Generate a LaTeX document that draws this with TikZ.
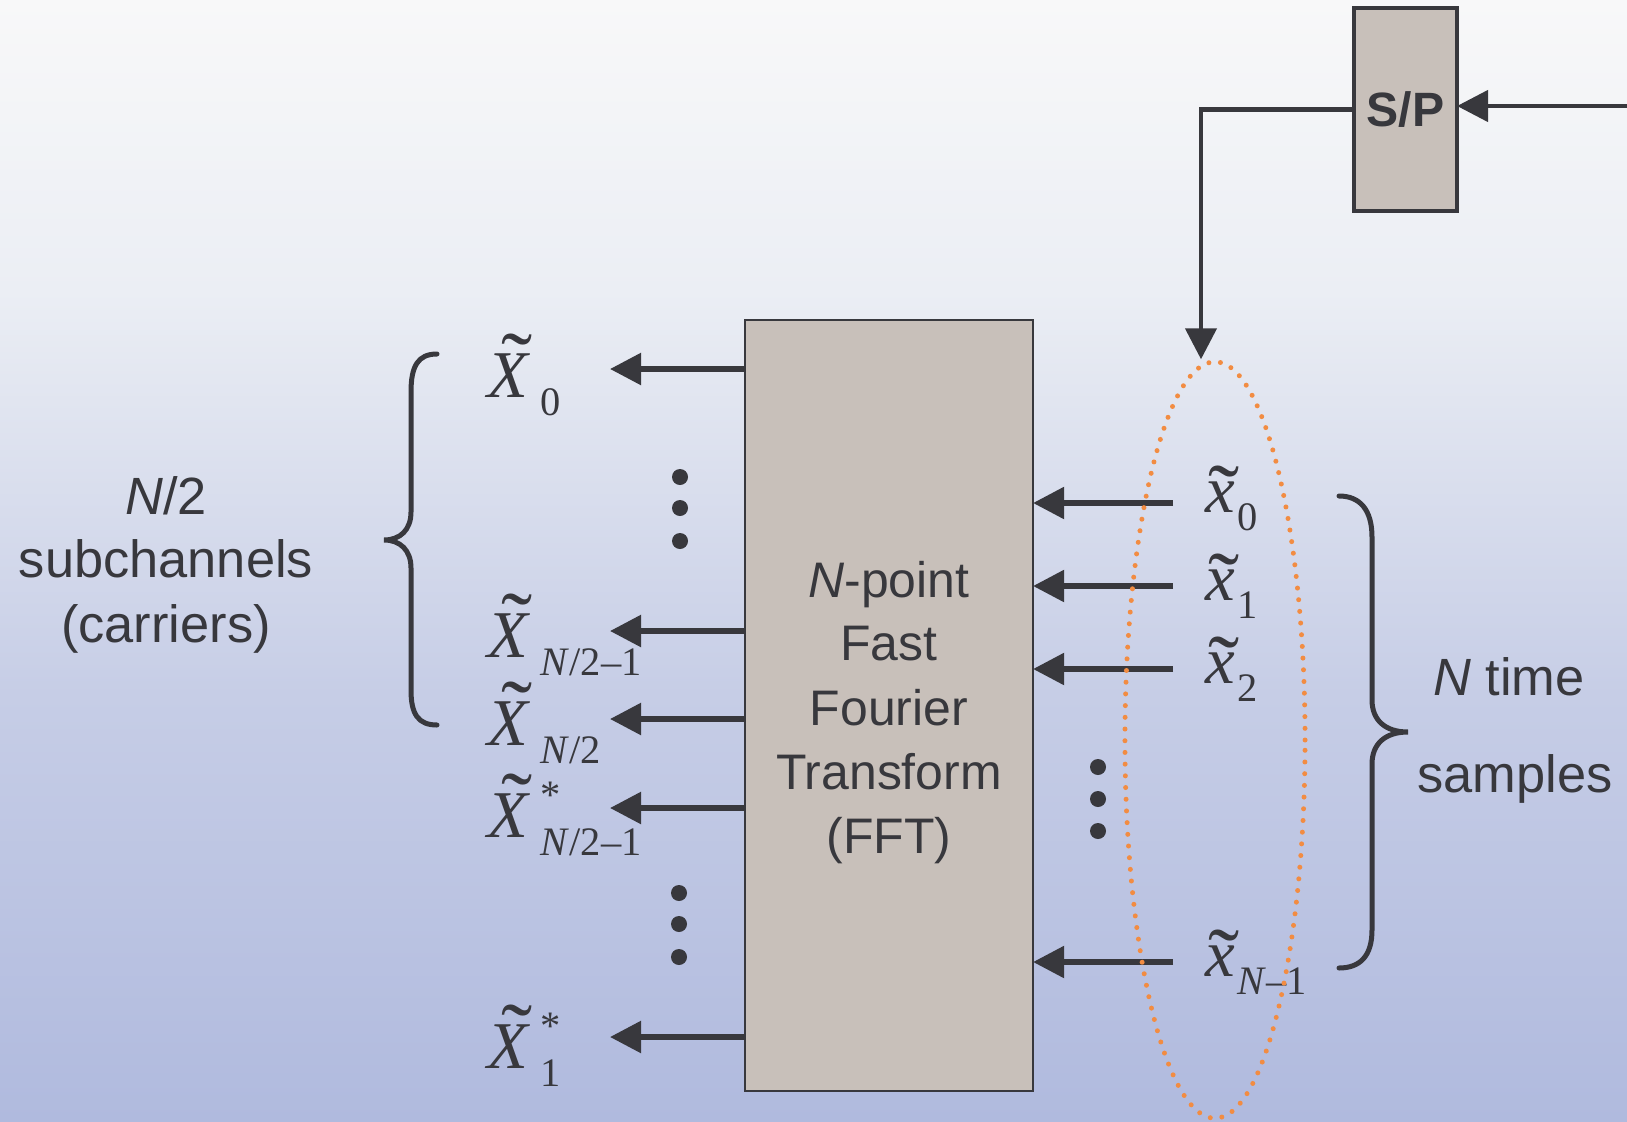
\documentclass[tikz,border=0pt]{standalone}
\usepackage{graphicx}
\usepackage{fontspec}
\setmainfont{Liberation Sans}
\newfontfamily\tms{Liberation Serif}
\usetikzlibrary{arrows.meta,shapes.geometric}
\definecolor{dk}{RGB}{56,56,61}
\definecolor{boxfill}{RGB}{200,192,186}
\definecolor{orng}{RGB}{242,140,66}
\definecolor{cbot}{RGB}{176,186,222}
\definecolor{cmid}{RGB}{198,205,230}
\definecolor{cup}{RGB}{235,238,244}
\definecolor{ctop}{RGB}{248,248,249}
\pgfdeclareverticalshading{bgshade}{100bp}{color(0bp)=(cbot); color(25bp)=(cbot); color(44bp)=(cmid); color(62bp)=(cup); color(75bp)=(ctop); color(100bp)=(ctop)}
\pgfdeclarelayer{fg}
\pgfsetlayers{main,fg}
\newcommand{\subf}{\fontsize{11.5}{12}\selectfont}
% capital X with tilde: #1 subscript, #2 superscript
\newcommand{\bX}[2]{{\fontsize{19}{22}\selectfont\tms
  \rlap{\kern0.2em\raisebox{0.07em}{\scalebox{1.4}[1.3]{\symbol{"02DC}}}}%
  \textit{X}\kern0.15em
  \rlap{\raisebox{0.42em}{\subf #2}}%
  \raisebox{-0.27em}{\subf #1}}}
% small x with tilde: #1 subscript
\newcommand{\sx}[1]{{\fontsize{19}{22}\selectfont\tms
  \rlap{\kern0.04em\raisebox{-0.19em}{\scalebox{1.4}[1.3]{\symbol{"02DC}}}}%
  \textit{x}\kern0.03em
  \raisebox{-0.27em}{\subf #1}}}
\tikzset{
  arr/.style={draw=dk, line width=0.055cm, -{Triangle[length=0.31cm,width=0.31cm]}},
  box/.style={draw=dk, fill=boxfill, inner sep=0pt, outer sep=0pt},
  lbl/.style={inner sep=0pt, anchor=base, text=dk},
  mlbl/.style={inner sep=0pt, anchor=base west, text=dk},
  dotb/.style={circle, fill=dk, inner sep=0pt, minimum size=0.16cm},
  brace/.style={draw=dk, line width=0.05cm, line cap=round},
  fftfont/.style={font=\fontsize{14.2}{17}\selectfont},
  sidefont/.style={font=\fontsize{14.9}{18}\selectfont}
}
\begin{document}
\begin{tikzpicture}[x=0.01cm, y=-0.01cm]
\useasboundingbox (0,0) rectangle (1627,1121);
\shade[shading=bgshade] (0,0) rectangle (1627,1121);

% orange dotted ellipse on top layer
\begin{pgfonlayer}{fg}
\node[ellipse, draw=orng, line width=0.05cm, dash pattern=on 0pt off 0.117cm, line cap=round,
      minimum width=1.8cm, minimum height=7.56cm, inner sep=0pt] (ell) at (1215,740) {};
\end{pgfonlayer}

% boxes
\node[box, line width=0.02cm, minimum width=2.88cm, minimum height=7.71cm] (fft) at (889,705.5) {};
\node[box, line width=0.035cm, minimum width=1.03cm, minimum height=2.03cm,
      font=\bfseries\fontsize{13.7}{16}\selectfont, text=dk] (sp) at (1405.5,109.5) {S/P};

% FFT text
\node[lbl, fftfont] (f1) at (889,597) {\textit{N}-point};
\node[lbl, fftfont] (f2) at (889,660) {Fast};
\node[lbl, fftfont] (f3) at (889,725) {Fourier};
\node[lbl, fftfont] (f4) at (889,789) {Transform};
\node[lbl, fftfont] (f5) at (889,853) {(FFT)};

% side texts
\node[lbl, sidefont] (s1) at (166,514) {\textit{N}/2};
\node[lbl, sidefont] (s2) at (166,577) {subchannels};
\node[lbl, sidefont] (s3) at (166,642) {(carriers)};
\node[lbl, sidefont] (t1) at (1509,695) {\textit{N} time};
\node[lbl, sidefont] (t2) at (1515,792) {samples};

% S/P connections
\coordinate (spin) at (1627,106);
\draw[arr, line width=0.045cm] (spin) -- (sp.east |- spin);
\draw[arr, line width=0.045cm] (sp.west) -| ([xshift=-0.14cm]ell.north);

% output arrows (left)
\foreach \y/\n in {369/a,631/b,719/c,808/d,1037/e}{
  \coordinate (L\n) at (610,\y);
  \draw[arr] (fft.west |- L\n) -- (L\n);
}
% input arrows (right)
\foreach \y/\n in {503/a,586/b,669/c,962/d}{
  \coordinate (R\n) at (1173,\y);
  \draw[arr] (R\n) -- (fft.east |- R\n);
}

% left labels
\node[mlbl] (X0) at (487,397) {\bX{0}{}};
\node[mlbl] (X1) at (487,657) {\bX{\textit{N}/2–1}{}};
\node[mlbl] (X2) at (487,745) {\bX{\textit{N}/2}{}};
\node[mlbl] (X3) at (487,837) {\bX{\textit{N}/2–1}{*}};
\node[mlbl] (X4) at (487,1068) {\bX{1}{*}};

% right labels
\node[mlbl] (x0) at (1205,512) {\sx{0}};
\node[mlbl] (x1) at (1205,600) {\sx{1}};
\node[mlbl] (x2) at (1205,683) {\sx{2}};
\node[mlbl] (x3) at (1205,976) {\sx{\textit{N}–1}};

% ellipsis dots
\node[dotb] (d1) at (680,477) {};
\node[dotb] (d2) at (680,508) {};
\node[dotb] (d3) at (680,541) {};
\node[dotb] (d4) at (679,893) {};
\node[dotb] (d5) at (679,924) {};
\node[dotb] (d6) at (679,957) {};
\node[dotb] (d7) at (1098,767) {};
\node[dotb] (d8) at (1098,799) {};
\node[dotb] (d9) at (1098,831) {};

% braces
\draw[brace] (437,354) .. controls (418,354) and (411,366) .. (411,392) -- (411,512)
  .. controls (411,530) and (400,540) .. (384,540)
  .. controls (400,540) and (411,550) .. (411,568) -- (411,690)
  .. controls (411,714) and (418,725) .. (437,725);
\draw[brace] (1339,496) .. controls (1360,496) and (1372,510) .. (1372,537) -- (1372,700)
  .. controls (1372,720) and (1385,732) .. (1408,732)
  .. controls (1385,732) and (1372,744) .. (1372,764) -- (1372,930)
  .. controls (1372,956) and (1360,968) .. (1339,968);
\end{tikzpicture}
\end{document}
